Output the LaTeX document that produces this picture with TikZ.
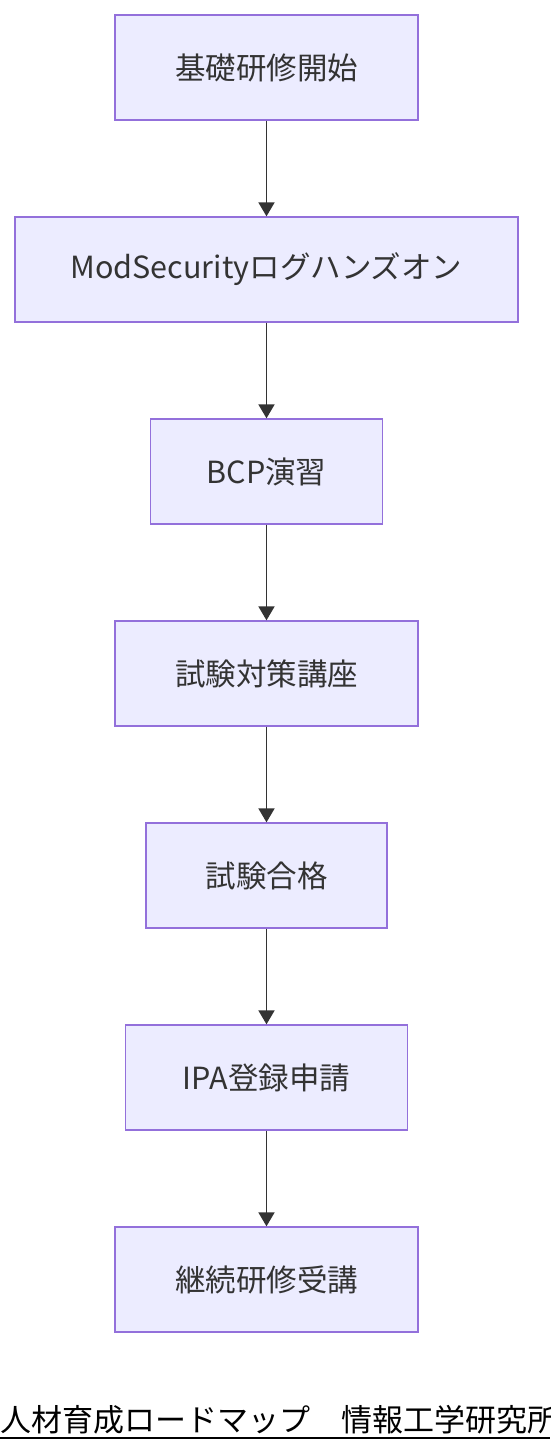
\documentclass[tikz,border=0pt]{standalone}
\usepackage{fontspec}
\setmainfont{Noto Sans CJK JP}
\usetikzlibrary{arrows.meta}
\definecolor{colorFill}{HTML}{ECECFF}
\definecolor{colorLine}{HTML}{9370DB}
\definecolor{colorArrow}{HTML}{333333}

\begin{document}
\begin{tikzpicture}[x=1pt,y=-1pt,
    step box/.style={draw=colorLine,fill=colorFill,line width=1.3pt,minimum height=105pt,inner sep=0pt,text=colorArrow,font=\fontsize{30.5}{34}\selectfont},
    flow/.style={draw=colorArrow,line width=1.8pt,-{Triangle[length=14pt,width=16pt]}}]
        \useasboundingbox (0,0) rectangle (550,1452);
        \clip (0,0) rectangle (550,1452);
        \node[step box,minimum width=303pt] (kiso) at (266.5,67.5) {基礎研修開始};
        \node[step box,minimum width=503pt] (modsec) at (266.5,269.5) {ModSecurityログハンズオン};
        \node[step box,minimum width=232pt] (bcp) at (266.5,471.5) {BCP演習};
        \node[step box,minimum width=303pt] (taisaku) at (266.5,673.5) {試験対策講座};
        \node[step box,minimum width=241pt] (goukaku) at (266.5,875.5) {試験合格};
        \node[step box,minimum width=282pt] (ipa) at (266.5,1077.5) {IPA登録申請};
        \node[step box,minimum width=303pt] (keizoku) at (266.5,1279.5) {継続研修受講};
        \draw[flow] (kiso) -- (modsec);
        \draw[flow] (modsec) -- (bcp);
        \draw[flow] (bcp) -- (taisaku);
        \draw[flow] (taisaku) -- (goukaku);
        \draw[flow] (goukaku) -- (ipa);
        \draw[flow] (ipa) -- (keizoku);
%        title of the chart, cut at the right edge
        \node[anchor=base west,inner sep=0pt,font=\fontsize{31}{34}\selectfont] (title) at (0,1431) {人材育成ロードマップ　情報工学研究所};
        \draw[line width=2pt] (0,1437.5) -- (550,1437.5);
    \end{tikzpicture}
\end{document}
